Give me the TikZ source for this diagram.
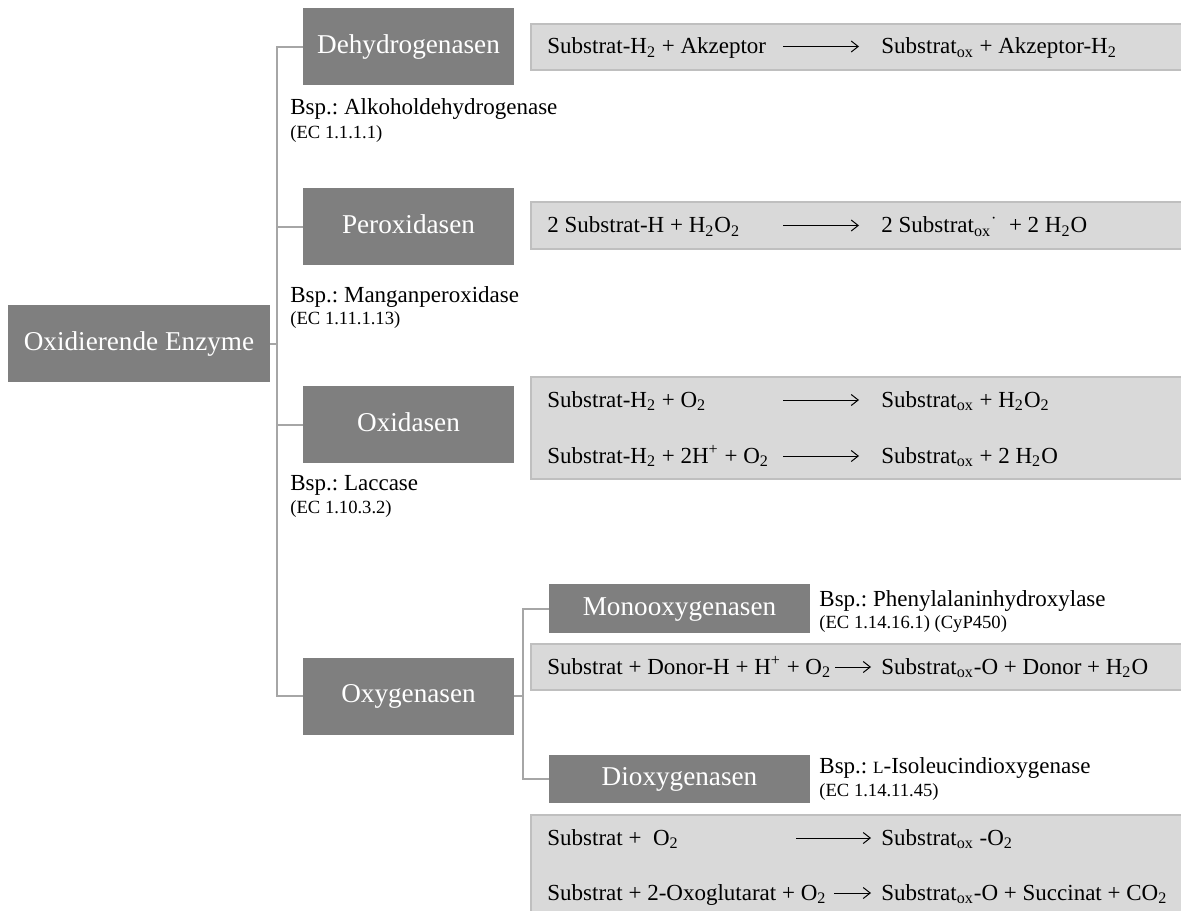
\documentclass[tikz,border=0pt]{standalone}
\usepackage{fontspec}
\setmainfont{Liberation Serif}
\usetikzlibrary{arrows.meta}
\frenchspacing

\definecolor{boxdark}{RGB}{127,127,127}
\definecolor{boxlight}{RGB}{217,217,217}
\definecolor{boxline}{RGB}{191,191,191}
\definecolor{linegray}{RGB}{166,166,166}

\newcommand{\tsub}[1]{\textsubscript{#1}}
\newcommand{\ox}{\textsubscript{ox}}

\begin{document}
\begin{tikzpicture}[x=0.5pt, y=-0.5pt,
        enzyme/.style={fill=boxdark, text=white, inner sep=0pt, minimum width=105.5pt,
                minimum height=38.5pt, text height=0.66em, text depth=0pt,
                font=\fontsize{13.6}{16}\selectfont},
        subenzyme/.style={enzyme, minimum width=130.5pt, minimum height=24.25pt},
        reaction/.style={fill=boxlight, draw=boxline, line width=0.75pt, anchor=north west,
                inner sep=0pt, minimum width=340pt},
        formula/.style={anchor=base west, inner sep=0pt, font=\fontsize{11.5}{14}\selectfont},
        ecnum/.style={anchor=base west, inner sep=0pt, font=\fontsize{9.3}{11}\selectfont},
        branch/.style={draw=linegray, line width=1pt},
        yields/.style={-{Straight Barb[length=3.5pt,width=5.5pt]}, line width=0.5pt}]
        \useasboundingbox (0,0) rectangle (1181,910);
        % enzyme classes
        \node[enzyme, minimum width=131pt] (root) at (139,343.5) {Oxidierende Enzyme};
        \node[enzyme] (dehyd)  at (408.5,46.5)  {Dehydrogenasen};
        \node[enzyme] (perox)  at (408.5,226.5) {Peroxidasen};
        \node[enzyme] (oxid)   at (408.5,424.5) {Oxidasen};
        \node[enzyme] (oxygen) at (408.5,696)   {Oxygenasen};
        \node[subenzyme] (mono)  at (679.5,608.5) {Monooxygenasen};
        \node[subenzyme] (dioxy) at (679.5,779)   {Dioxygenasen};
        % tree lines
        \coordinate (trunk) at (277,343.5);
        \coordinate (subtrunk) at (523,696);
        \draw[branch] (root.east) -- (trunk);
        \draw[branch] (trunk) |- (dehyd.west);
        \draw[branch] (trunk) |- (perox.west);
        \draw[branch] (trunk) |- (oxid.west);
        \draw[branch] (trunk) |- (oxygen.west);
        \draw[branch] (oxygen.east) -- (subtrunk);
        \draw[branch] (subtrunk) |- (mono.west);
        \draw[branch] (subtrunk) |- (dioxy.west);
        % examples
        \node[formula] (bsp1) at (290,114) {Bsp.: Alkoholdehydrogenase};
        \node[ecnum]   (ec1)  at (290,138) {(EC 1.1.1.1)};
        \node[formula] (bsp2) at (290,302) {Bsp.: Manganperoxidase};
        \node[ecnum]   (ec2)  at (290,324) {(EC 1.11.1.13)};
        \node[formula] (bsp3) at (290,490) {Bsp.: Laccase};
        \node[ecnum]   (ec3)  at (290,513) {(EC 1.10.3.2)};
        \node[formula] (bsp4) at (819,606) {Bsp.: Phenylalaninhydroxylase};
        \node[ecnum]   (ec4)  at (819,628) {(EC 1.14.16.1) (CyP450)};
        \node[formula] (bsp5) at (819,773) {Bsp.: {\fontsize{8.6}{10}\selectfont L}-Isoleucindioxygenase};
        \node[ecnum]   (ec5)  at (819,796) {(EC 1.14.11.45)};
        % reaction boxes
        \node[reaction, minimum height=23pt]   (r1) at (530,23)  {};
        \node[reaction, minimum height=23.5pt] (r2) at (530,201) {};
        \node[reaction, minimum height=51pt]   (r3) at (530,376) {};
        \node[reaction, minimum height=23pt]   (r4) at (530,643) {};
        \node[reaction, minimum height=60pt]   (r5) at (530,814) {};
        % dehydrogenase
        \node[formula] (l1) at (547,53.5) {Substrat-H\tsub{2} + Akzeptor};
        \node[formula] (p1) at (881,53.5) {Substrat\ox{} + Akzeptor-H\tsub{2}};
        \coordinate (s1) at (783,46.5);
        \coordinate (e1) at (859,46.5);
        \draw[yields] (s1) -- (e1);
        % peroxidase
        \node[formula] (l2) at (547,232.5) {2 Substrat-H + H\tsub{2}O\tsub{2}};
        \node[formula] (p2) at (881,232.5) {2 Substrat\ox\textsuperscript{·}\ \ + 2 H\tsub{2}O};
        \coordinate (s2) at (783,225.5);
        \coordinate (e2) at (859,225.5);
        \draw[yields] (s2) -- (e2);
        % oxidase
        \node[formula] (l3) at (547,407) {Substrat-H\tsub{2} + O\tsub{2}};
        \node[formula] (p3) at (881,407) {Substrat\ox{} + H\tsub{2}O\tsub{2}};
        \coordinate (s3) at (783,400);
        \coordinate (e3) at (859,400);
        \draw[yields] (s3) -- (e3);
        \node[formula] (l4) at (547,463) {Substrat-H\tsub{2} + 2H\textsuperscript{+} + O\tsub{2}};
        \node[formula] (p4) at (881,463) {Substrat\ox{} + 2 H\tsub{2}O};
        \coordinate (s4) at (783,456);
        \coordinate (e4) at (859,456);
        \draw[yields] (s4) -- (e4);
        % monooxygenase
        \node[formula] (l5) at (547,674) {Substrat + Donor-H + H\textsuperscript{+} + O\tsub{2}};
        \node[formula] (p5) at (881,674) {Substrat\ox-O + Donor + H\tsub{2}O};
        \coordinate (s5) at (835,667);
        \coordinate (e5) at (871,667);
        \draw[yields] (s5) -- (e5);
        % dioxygenase
        \node[formula] (l6) at (547,845) {Substrat + \ O\tsub{2}};
        \node[formula] (p6) at (881,845) {Substrat\ox{} -O\tsub{2}};
        \coordinate (s6) at (796,838);
        \coordinate (e6) at (871,838);
        \draw[yields] (s6) -- (e6);
        \node[formula] (l7) at (547,900) {Substrat + 2-Oxoglutarat + O\tsub{2}};
        \node[formula] (p7) at (881,900) {Substrat\ox-O + Succinat + CO\tsub{2}};
        \coordinate (s7) at (834,893);
        \coordinate (e7) at (871,893);
        \draw[yields] (s7) -- (e7);
    \end{tikzpicture}
\end{document}
